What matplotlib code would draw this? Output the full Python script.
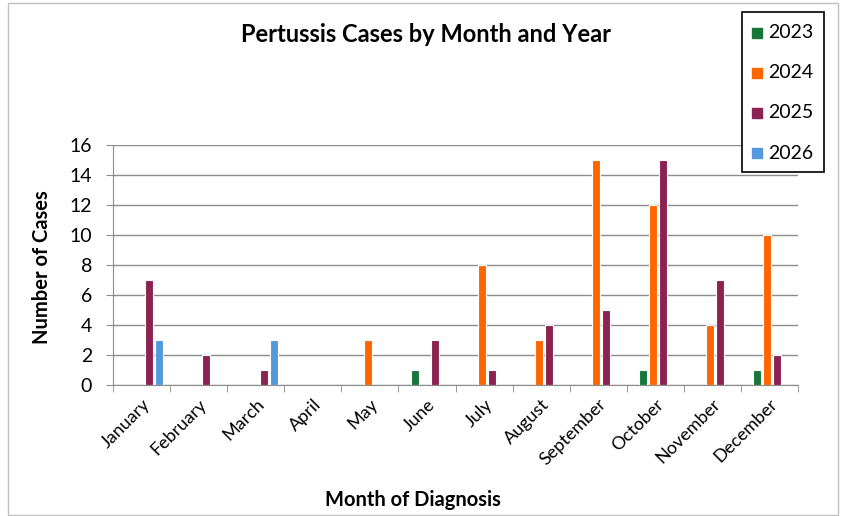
import matplotlib
matplotlib.use("Agg")
import matplotlib.pyplot as plt
import numpy as np
from matplotlib.patches import Rectangle
from matplotlib.lines import Line2D

months = ["January", "February", "March", "April", "May", "June", "July",
          "August", "September", "October", "November", "December"]
years = ["2023", "2024", "2025", "2026"]
cases_2023 = [0, 0, 0, 0, 0, 1, 0, 0, 0, 1, 0, 1]
cases_2024 = [0, 0, 0, 0, 3, 0, 8, 3, 15, 12, 4, 10]
cases_2025 = [7, 2, 1, 0, 0, 3, 1, 4, 5, 15, 7, 2]
cases_2026 = [3, 0, 3, 0, 0, 0, 0, 0, 0, 0, 0, 0]
series = [cases_2023, cases_2024, cases_2025, cases_2026]
colors = ["#17763A", "#FF6600", "#8B2252", "#5599DD"]

plt.rcParams['font.family'] = ['Lato', 'DejaVu Sans']

W, H = 846, 516
fig = plt.figure(figsize=(W / 100, H / 100), dpi=100)
fig.patches.append(Rectangle((8 / W, 1 - 515 / H), 830 / W, 512 / H,
                             transform=fig.transFigure, fill=False,
                             edgecolor="#BFBFBF", linewidth=1))

ax = fig.add_axes([113 / W, 1 - 385 / H, 685 / W, 240 / H])
x = np.arange(len(months))
bw = 0.14
step = 0.175
for i, (vals, c, yr) in enumerate(zip(series, colors, years)):
    offs = (i - 1.5) * step + 0.05
    v = np.array(vals, dtype=float)
    mask = v > 0
    ax.bar(x[mask] + offs, v[mask], width=bw, color=c, edgecolor="white",
           linewidth=0.8, zorder=3, label=yr)

ax.set_xlim(-0.5, 11.5)
ax.set_ylim(0, 16)
ax.set_yticks(range(0, 17, 2))
ax.yaxis.grid(True, color="#8C8C8C", linewidth=1, zorder=0)
ax.set_axisbelow(True)
for s in ["top", "right"]:
    ax.spines[s].set_visible(False)
ax.spines["left"].set_color("#8C8C8C")
ax.spines["bottom"].set_color("#8C8C8C")
ax.tick_params(axis="y", length=5, color="#8C8C8C", labelsize=14, pad=10)
ax.set_xticks(x)
ax.set_xticklabels(months, rotation=45, ha="right", rotation_mode="anchor", fontsize=13)
ax.tick_params(axis="x", length=0, pad=8)
ax.set_xticks(np.arange(-0.5, 12, 1), minor=True)
ax.tick_params(axis="x", which="minor", length=5, color="#8C8C8C")

ax.set_ylabel("Number of Cases", fontsize=14.5, fontweight="bold")
ax.yaxis.set_label_coords((52 - 113) / 685, (385 - 267) / 240)
fig.text(413 / W, 1 - 500 / H, "Month of Diagnosis", ha="center", va="center",
         fontsize=14.5, fontweight="bold")
fig.text(426 / W, 1 - 35 / H, "Pertussis Cases by Month and Year", ha="center",
         va="center", fontsize=17, fontweight="bold")

# legend drawn manually in figure pixel coordinates
fig.patches.append(Rectangle((742 / W, 1 - 172 / H), 82 / W, 160 / H,
                             transform=fig.transFigure, fill=True,
                             facecolor="white", edgecolor="black",
                             linewidth=1.2, zorder=5))
for k, (yr, c) in enumerate(zip(years, colors)):
    yy = 1 - (33 + 40 * k) / H
    fig.add_artist(Line2D([757 / W], [yy], marker="s", markersize=7,
                          linestyle="none", markerfacecolor=c,
                          markeredgecolor=c, transform=fig.transFigure,
                          zorder=6))
    fig.text(768 / W, yy, yr, ha="left", va="center", fontsize=14, zorder=6)

fig.savefig("out.png", dpi=100)
